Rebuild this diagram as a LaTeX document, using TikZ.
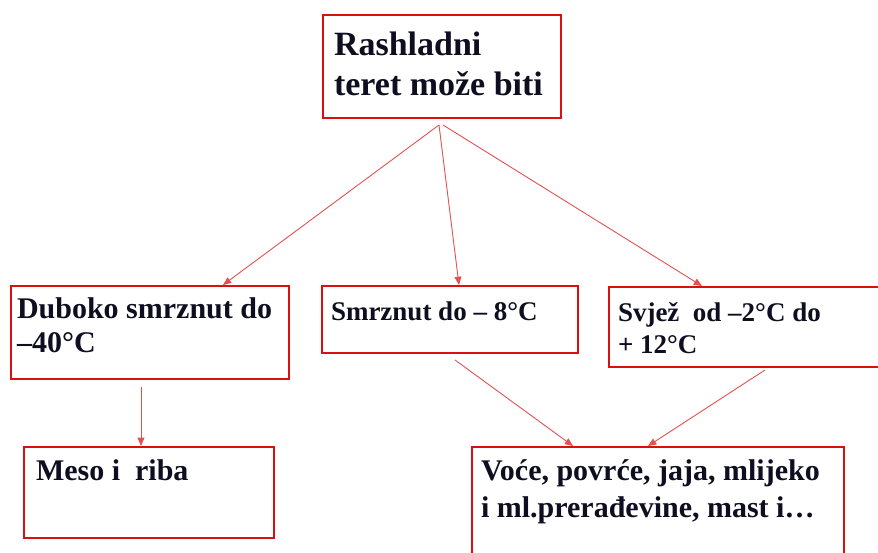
\documentclass[tikz,border=0pt]{standalone}
\usepackage{fontspec}
\setmainfont{Liberation Serif}
\usepackage{tikz}
\usetikzlibrary{arrows}
\usetikzlibrary{calc}
\definecolor{boxred}{RGB}{218,16,16}
\definecolor{linered}{RGB}{226,80,80}
\definecolor{inkblue}{RGB}{14,14,32}

\begin{document}
\begin{tikzpicture}[x=1pt,y=-1pt]
    \tikzstyle{box}=[draw=boxred,line width=2pt,anchor=north west,inner sep=0pt,text=inkblue]
    \tikzstyle{big}=[font=\fontsize{34}{40}\bfseries\selectfont]
    \tikzstyle{mid}=[font=\fontsize{30}{34}\bfseries\selectfont]
    \tikzstyle{small}=[font=\fontsize{27}{32}\bfseries\selectfont]
    \tikzstyle{link}=[draw=linered,line width=0.9pt,-triangle 45]
    \useasboundingbox (0,0) rectangle (878,553);
    \clip (0,0) rectangle (878,553);
    % top box
    \node(teret)[box,big,inner xsep=11pt,inner ysep=13pt] at (322,14)
        {\parbox[t][77pt][t]{216pt}{\strut Rashladni\\teret može biti}};
    % second row
    \node(dub)[box,mid,inner xsep=6pt,inner ysep=9pt] at (10,285)
        {\parbox[t][75pt][t]{266pt}{\strut Duboko smrznut do\\–40°C}};
    \node(smr)[box,small,inner xsep=9pt,inner ysep=12pt] at (321,285)
        {\parbox[t][43pt][t]{238pt}{\strut Smrznut do – 8°C}};
    \node(svj)[box,small,inner xsep=9pt,inner ysep=12pt] at (608,286)
        {\parbox[t][56pt][t]{264pt}{\strut Svjež~ od –2°C do\\+ 12°C}};
    % third row
    \node(meso)[box,mid,inner xsep=12pt,inner ysep=10pt] at (23,446)
        {\parbox[t][71pt][t]{226pt}{\strut Meso i~ riba}};
    \node(voce)[box,font=\fontsize{30}{37}\bfseries\selectfont,inner xsep=9pt,inner ysep=8pt] at (471,446)
        {\parbox[t][113pt][t]{354pt}{\strut Voće, povrće, jaja, mlijeko\\i ml.prerađevine, mast i…}};
    % arrows
    \draw[link]($(teret.south)+(-3,6)$)--($(dub.north west)+(213,0)$);
    \draw[link]($(teret.south)+(-3,6)$)--($(smr.north west)+(138,0)$);
    \draw[link]($(teret.south)+(1,6)$)--($(svj.north west)+(94,0)$);
    \draw[link]($(dub.south west)+(131,7)$)--($(meso.north west)+(118,0)$);
    \draw[link]($(smr.south west)+(134,6)$)--($(voce.north west)+(102,0)$);
    \draw[link]($(svj.south west)+(157,2)$)--($(voce.north west)+(177,0)$);
\end{tikzpicture}
\end{document}
